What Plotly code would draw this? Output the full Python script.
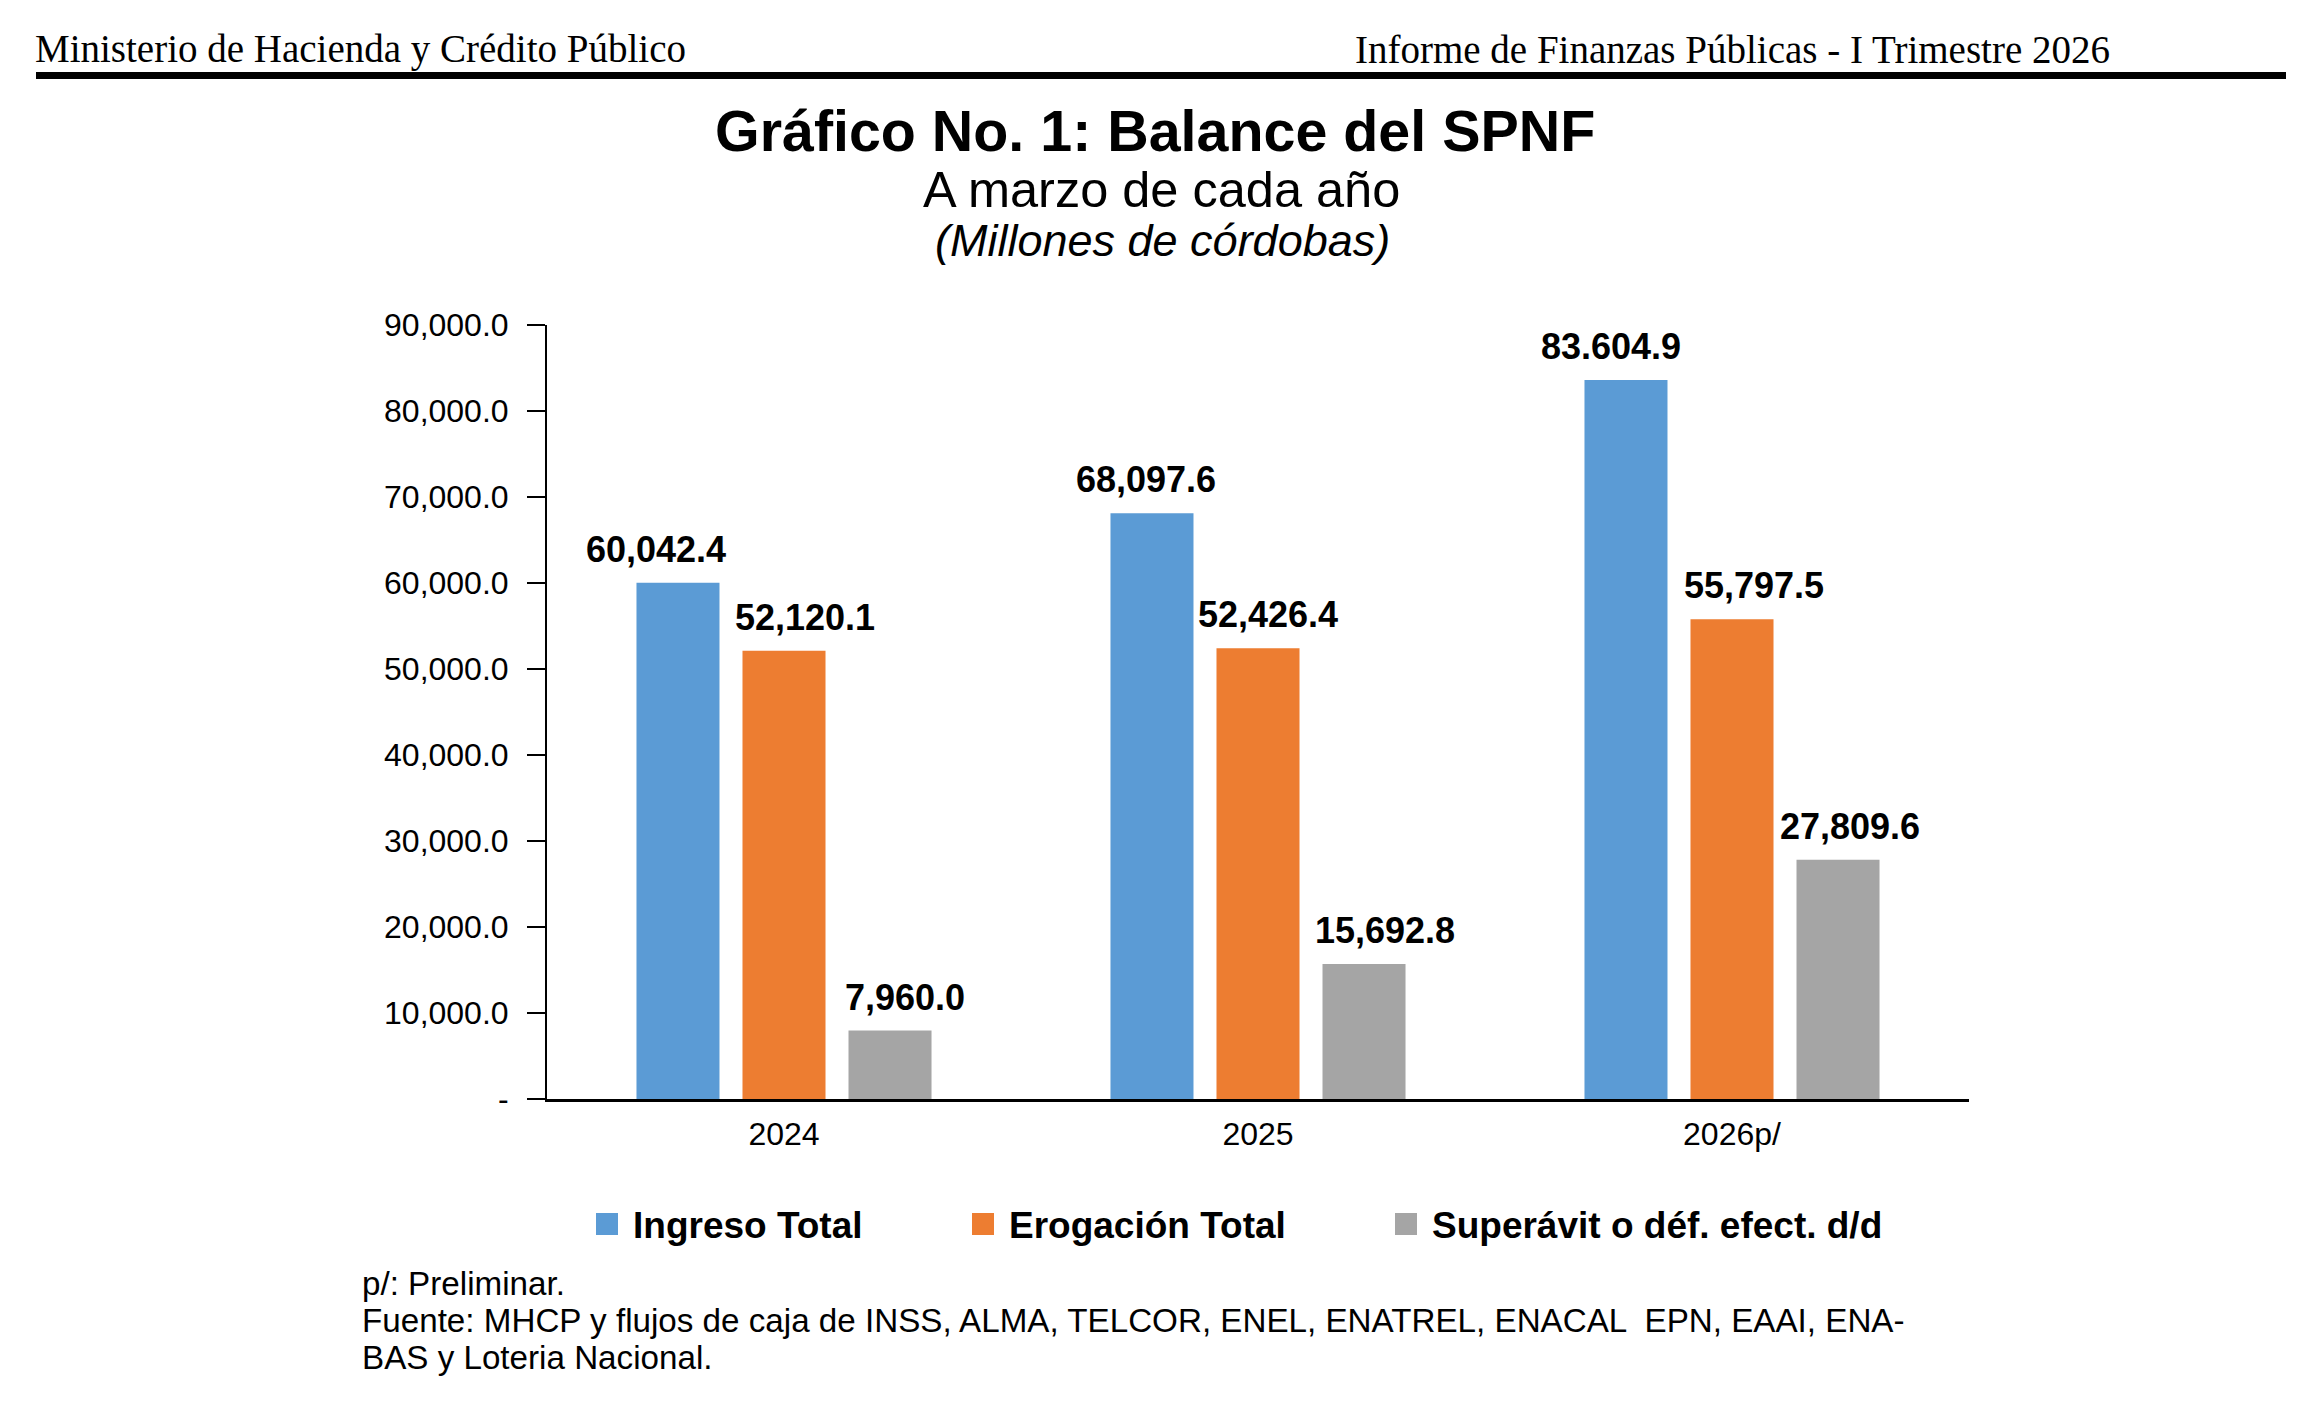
import plotly.graph_objects as go

# page is 2318x1427; plotly's html body has an 8px margin
OFF = 8
W, H = 2318 - 2 * OFF, 1427 - 2 * OFF

# data
years = ["2024", "2025", "2026p/"]
ingreso = [60042.4, 68097.6, 83604.9]
erogacion = [52120.1, 52426.4, 55797.5]
superavit = [7960.0, 15692.8, 27809.6]
ingreso_lbl = ["60,042.4", "68,097.6", "83.604.9"]
erogacion_lbl = ["52,120.1", "52,426.4", "55,797.5"]
superavit_lbl = ["7,960.0", "15,692.8", "27,809.6"]
names = ["Ingreso Total", "Erogación Total", "Superávit o déf. efect. d/d"]
y_ticks = [0, 10000, 20000, 30000, 40000, 50000, 60000, 70000, 80000, 90000]
y_ticktext = ["-", "10,000.0", "20,000.0", "30,000.0", "40,000.0", "50,000.0",
              "60,000.0", "70,000.0", "80,000.0", "90,000.0"]
notes = ["p/: Preliminar.",
         "Fuente: MHCP y flujos de caja de INSS, ALMA, TELCOR, ENEL, ENATREL, ENACAL  EPN, EAAI, ENA-",
         "BAS y Loteria Nacional."]

colors = ["#5B9BD5", "#ED7D31", "#A5A5A5"]
SANS = "Liberation Sans, Arial, sans-serif"
SERIF = "Liberation Serif, Times New Roman, serif"

# plot area in page pixels
PX0, PX1, PY0, PY1 = 547, 1969, 325, 1099
BARGAP, GROUPGAP = 0.329, 0.217


def fx(p):
    return (p - PX0) / (PX1 - PX0)


def fy(p):
    return (PY1 - p) / (PY1 - PY0)


def label(x, y, text, size, anchor="left", family=SANS):
    return dict(x=fx(x), y=fy(y), xref="paper", yref="paper", showarrow=False,
                text=text, xanchor=anchor, yanchor="middle",
                font=dict(family=family, size=size, color="black"))


fig = go.Figure()
series = [(ingreso, ingreso_lbl), (erogacion, erogacion_lbl), (superavit, superavit_lbl)]
for (vals, _), name, col in zip(series, names, colors):
    fig.add_trace(go.Bar(x=years, y=vals, name=name, marker_color=col,
                         marker_line_width=0, showlegend=False))

ann = []
# value labels above bars (x given as category index); labels sit slightly off-centre
slot = (PX1 - PX0) / 3 * (1 - BARGAP) / 3
nudge = [[-22, -6, -15], [21, 10, 22], [15, 21, 12]]
for i, (vals, lbls) in enumerate(series):
    for j, (v, t) in enumerate(zip(vals, lbls)):
        ann.append(dict(x=j, y=v, xref="x", yref="y", text="<b>%s</b>" % t,
                        showarrow=False, xanchor="center", yanchor="bottom",
                        xshift=(i - 1) * slot + nudge[i][j], yshift=11,
                        font=dict(family=SANS, size=36, color="black")))

# header
ann.append(label(33, 49, "Ministerio de Hacienda y Crédito Público", 39, family=SERIF))
ann.append(label(2112, 49, "Informe de Finanzas Públicas - I Trimestre 2026", 39, "right", SERIF))
# titles
ann.append(label(1155, 131, "<b>Gráfico No. 1: Balance del SPNF</b>", 57.4, "center"))
ann.append(label(1161, 190, "A marzo de cada año", 50.5, "center"))
ann.append(label(1162, 240, "<i>(Millones de córdobas)</i>", 45, "center"))

shapes = [dict(type="line", xref="paper", yref="paper", x0=fx(36), x1=fx(2286),
               y0=fy(75.5), y1=fy(75.5), line=dict(color="black", width=7))]

# legend (manual)
leg_x = [596, 972, 1395]
for lx, name, col in zip(leg_x, names, colors):
    shapes.append(dict(type="rect", xref="paper", yref="paper", x0=fx(lx), x1=fx(lx + 22),
                       y0=fy(1235), y1=fy(1213), fillcolor=col, line_width=0))
    ann.append(label(lx + 35, 1225, "<b>%s</b>" % name, 37))

# footnotes
for k, line in enumerate(notes):
    ann.append(label(360, 1283 + 37 * k, line, 33.2))

fig.update_layout(
    width=W, height=H,
    margin=dict(l=PX0 - OFF, r=W + OFF - PX1, t=PY0 - OFF, b=H + OFF - PY1, pad=0),
    paper_bgcolor="white", plot_bgcolor="white",
    barmode="group", bargap=BARGAP, bargroupgap=GROUPGAP,
    annotations=ann, shapes=shapes, showlegend=False,
)
fig.update_xaxes(type="category", range=[-0.5, 2.5], showline=True, linecolor="black",
                 linewidth=3, ticks="", showgrid=False,
                 tickfont=dict(family=SANS, size=32, color="black"), ticklabelstandoff=5)
fig.update_yaxes(range=[0, 90000], tickvals=y_ticks, ticktext=y_ticktext,
                 showline=True, linecolor="black", linewidth=2, ticks="outside",
                 ticklen=18, tickwidth=2, tickcolor="black", showgrid=False, zeroline=False,
                 tickfont=dict(family=SANS, size=32, color="black"), ticklabelstandoff=12)

fig.write_html("out.html")
